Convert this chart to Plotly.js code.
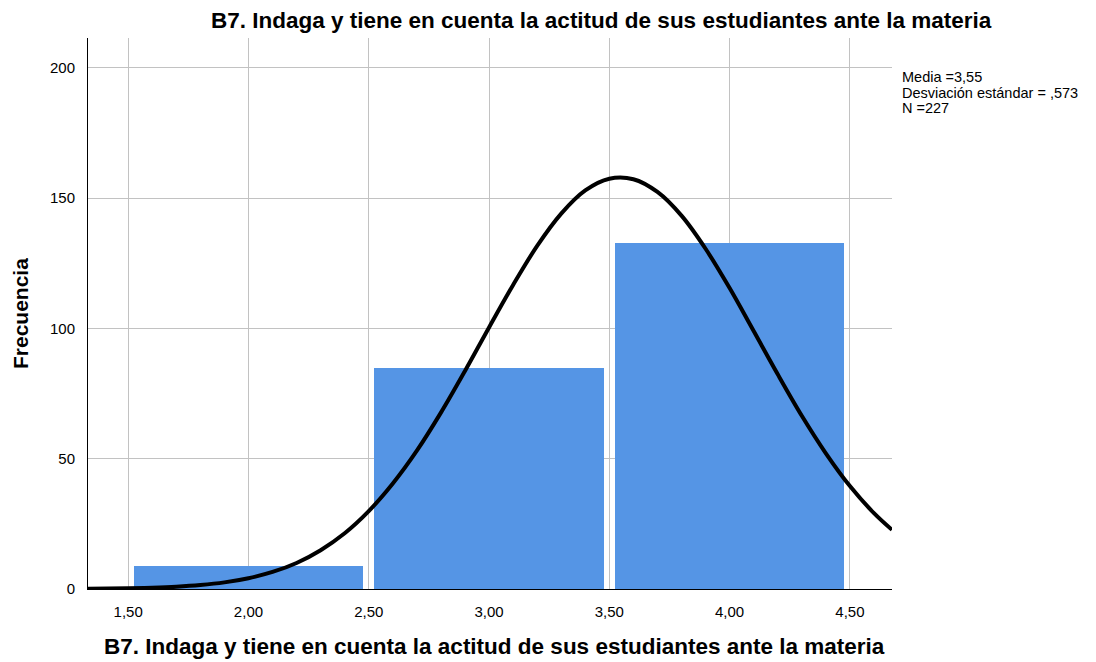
<!DOCTYPE html>
<html>
<head>
<meta charset="utf-8">
<script src="https://cdn.plot.ly/plotly-3.0.1.min.js"></script>
<style>html,body{margin:0;padding:0;background:#fff;}#chart{width:1096px;height:662px;}</style>
</head>
<body>
<div id="chart"></div>
<script>
// Histogram bins (centers) and frequencies
const binCenters = [2, 3, 4];
const frequencies = [9, 85, 133];

// Normal curve points
const curveX = [1.333, 1.5, 1.6, 1.7, 1.8, 1.9, 2.0, 2.1, 2.2, 2.3, 2.4, 2.5, 2.6, 2.7, 2.8, 2.9, 3.0, 3.1, 3.2, 3.3, 3.4, 3.5, 3.6, 3.7, 3.8, 3.9, 4.0, 4.1, 4.2, 4.3, 4.4, 4.5, 4.6, 4.675];
const curveY = [0.09, 0.27, 0.50, 0.88, 1.52, 2.55, 4.15, 6.54, 10.0, 14.9, 21.4, 29.9, 40.5, 53.1, 67.7, 83.7, 100.4, 116.7, 131.7, 144.1, 153.0, 157.5, 157.3, 152.4, 143.3, 130.6, 115.5, 99.0, 82.4, 66.5, 52.1, 39.5, 29.1, 22.7];

const xTicks = [1.5, 2.0, 2.5, 3.0, 3.5, 4.0, 4.5];
const yTicks = [0, 50, 100, 150, 200];

const titleText = "B7. Indaga y tiene en cuenta la actitud de sus estudiantes ante la materia";
const statsLines = ["Media =3,55", "Desviación estándar = ,573", "N =227"];

const font = "Liberation Sans, Arial, sans-serif";

const traces = [
  {
    type: "bar",
    x: binCenters,
    y: frequencies,
    width: 0.955,
    marker: {color: "#5595e5", line: {width: 0}},
    hoverinfo: "x+y"
  },
  {
    type: "scatter",
    mode: "lines",
    x: curveX,
    y: curveY,
    line: {color: "#000", width: 4, shape: "spline"},
    hoverinfo: "skip"
  }
];

const L = 88, R = 892, T = 38, B = 589, W = 1096, H = 662;
const plotW = R - L, plotH = B - T;
function px(x) { return (x - L) / plotW; }
function py(y) { return (B - y) / plotH; }

const annotations = [
  {text: "<b>" + titleText + "</b>", xref: "paper", yref: "paper", x: px(601), y: py(20), xanchor: "center", yanchor: "middle", showarrow: false, font: {family: font, size: 22.5, color: "#000"}},
  {text: "<b>" + titleText + "</b>", xref: "paper", yref: "paper", x: px(494), y: py(647), xanchor: "center", yanchor: "middle", showarrow: false, font: {family: font, size: 22.5, color: "#000"}},
  {text: "<b>Frecuencia</b>", xref: "paper", yref: "paper", x: px(20), y: py(314), xanchor: "center", yanchor: "middle", textangle: -90, showarrow: false, font: {family: font, size: 21, color: "#000"}}
];
statsLines.forEach((s, i) => {
  annotations.push({text: s, xref: "paper", yref: "paper", x: px(900), y: py(77 + i * 15.5), xanchor: "left", yanchor: "middle", showarrow: false, font: {family: font, size: 14.5, color: "#000"}});
});

const layout = {
  width: W, height: H,
  margin: {l: L, r: W - R, t: T, b: H - B, pad: 0},
  paper_bgcolor: "#fff",
  plot_bgcolor: "#fff",
  separators: ",.",
  showlegend: false,
  bargap: 0,
  font: {family: font, size: 15, color: "#000"},
  xaxis: {
    range: [1.333, 4.675],
    tickvals: xTicks,
    tickformat: ".2f",
    showgrid: true, gridcolor: "#c2c2c2", gridwidth: 1,
    zeroline: false,
    showline: true, linecolor: "#000", linewidth: 1,
    ticks: "", ticklabelstandoff: 9,
    tickfont: {family: font, size: 15, color: "#000"},
    fixedrange: true
  },
  yaxis: {
    range: [0, 211.5],
    tickvals: yTicks,
    showgrid: true, gridcolor: "#c2c2c2", gridwidth: 1,
    zeroline: false,
    showline: true, linecolor: "#000", linewidth: 1,
    ticks: "", ticklabelstandoff: 9,
    tickfont: {family: font, size: 15, color: "#000"},
    fixedrange: true
  },
  annotations: annotations
};

Plotly.newPlot("chart", traces, layout, {displayModeBar: false, staticPlot: true});
</script>
</body>
</html>
